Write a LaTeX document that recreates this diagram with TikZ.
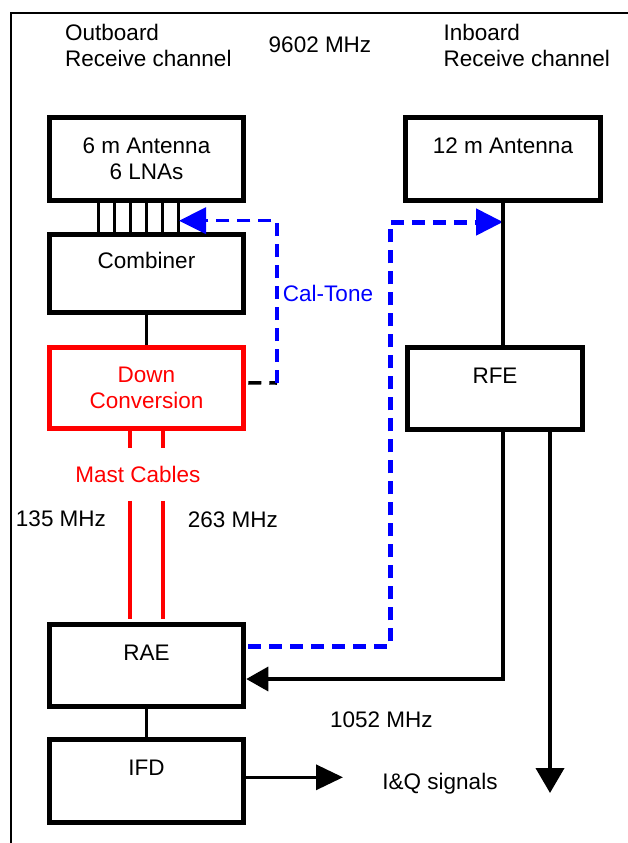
\documentclass[tikz,border=0pt]{standalone}
\usepackage{fontspec}
\setmainfont{Liberation Sans}
\usetikzlibrary{arrows.meta,calc}

\tikzset{
  blk/.style={draw, line width=5pt, minimum width=194.5pt, minimum height=82.5pt, align=center, inner sep=0pt},
  sig/.style={line width=3.3pt},
  cal/.style={line width=3.5pt, dash pattern=on 13pt off 8pt},
  mast/.style={draw=red, line width=3.3pt},
  bigtip/.style={-{Triangle[length=27pt,width=26pt]}},
  lbl/.style={inner sep=0pt},
}

\begin{document}
\begin{tikzpicture}[x=1pt, y=-1pt, font=\fontsize{22.5}{26}\selectfont]
\useasboundingbox (0,0) rectangle (628,843);

% frame
\draw[line width=2pt] (628,12.7) -- (10.7,12.7) -- (10.7,843);

% header
\node[lbl, align=left, anchor=west] (outb) at (65,45.5) {Outboard\\Receive channel};
\node[lbl] (freq) at (320,45) {9602 MHz};
\node[lbl, align=left, anchor=west] (inb) at (443.3,45.5) {Inboard\\Receive channel};

% outboard chain
\node[blk] (ant6) at (146.5,158.9) {6 m Antenna\\6 LNAs};
\node[blk, minimum height=78.3pt] (comb) at (146.5,273.3) {Combiner\\~};
\node[blk, draw=red, text=red, minimum height=80.7pt] (down) at (146.5,387.9) {Down\\Conversion};
\node[lbl, text=red, inner ysep=18pt] (mastlbl) at (138,474.5) {Mast Cables};
\node[blk] (rae) at (146.5,665.5) {RAE\\~};
\node[blk] (ifd) at (146.5,781) {IFD\\~};

% inboard chain
\node[blk] (ant12) at (503,158.9) {12 m Antenna\\~};
\node[blk, minimum width=175pt, minimum height=81.7pt] (rfe) at (495,388.4) {RFE\\~};

% labels
\node[lbl, text=blue] (caltone) at (328,293) {Cal-Tone};
\node[lbl] (f135) at (61,518.3) {135 MHz};
\node[lbl] (f263) at (232.8,520) {263 MHz};
\node[lbl] (f1052) at (381.3,720) {1052 MHz};
\node[lbl, anchor=base] (iq) at (440,789.8) {I\&Q signals};

% LNA outputs
\foreach \dx in {-48,-32,...,32}
  \draw[line width=2.7pt] ($(ant6.south)+(\dx,0)$) -- ($(comb.north)+(\dx,0)$);

\draw[sig] (comb.south) -- (down.north);

% mast cables
\foreach \dx [count=\i] in {-16.5,16.5} {
  \coordinate (cab\i) at ($(down.south)+(\dx,0)$);
  \draw[mast] (cab\i) -- (cab\i |- mastlbl.north);
  \draw[mast, shorten >=2.5pt] (cab\i |- mastlbl.south) -- (cab\i |- rae.north);
}

\draw[sig] (rae.south) -- (ifd.north);

% cal tone
\coordinate (calL) at (277,383);
\coordinate (calLT) at (277,220.7);
\coordinate (lnaIn) at (179,220.7);
\draw[cal, shorten <=2pt] ([yshift=5pt]down.east) -- (calL);
\draw[cal, blue, bigtip] (calL) -- (calLT) -- (lnaIn);

\coordinate (calRB) at (390,646.5);
\coordinate (calRT) at (390,222);
\draw[cal, blue, line width=5pt, bigtip, shorten <=2pt] ([yshift=19pt]rae.east) -- (calRB) -- (calRT) -- (calRT -| ant12);

% inboard signal
\draw[sig] (ant12.south) -- (ant12.south |- rfe.north);
\draw[sig, -{Triangle[length=22pt,width=24pt]}] (ant12.south |- rfe.south) |- ([yshift=-13.5pt]rae.east);
\coordinate (rfeOut) at (550,793);
\draw[line width=4pt, -{Triangle[length=25pt,width=28pt]}] (rfe.south -| rfeOut) -- (rfeOut);

% I&Q out
\coordinate (iqOut) at (343,777.3);
\draw[sig, -{Triangle[length=27pt,width=25pt]}] (ifd.east |- iqOut) -- (iqOut);
\end{tikzpicture}
\end{document}
